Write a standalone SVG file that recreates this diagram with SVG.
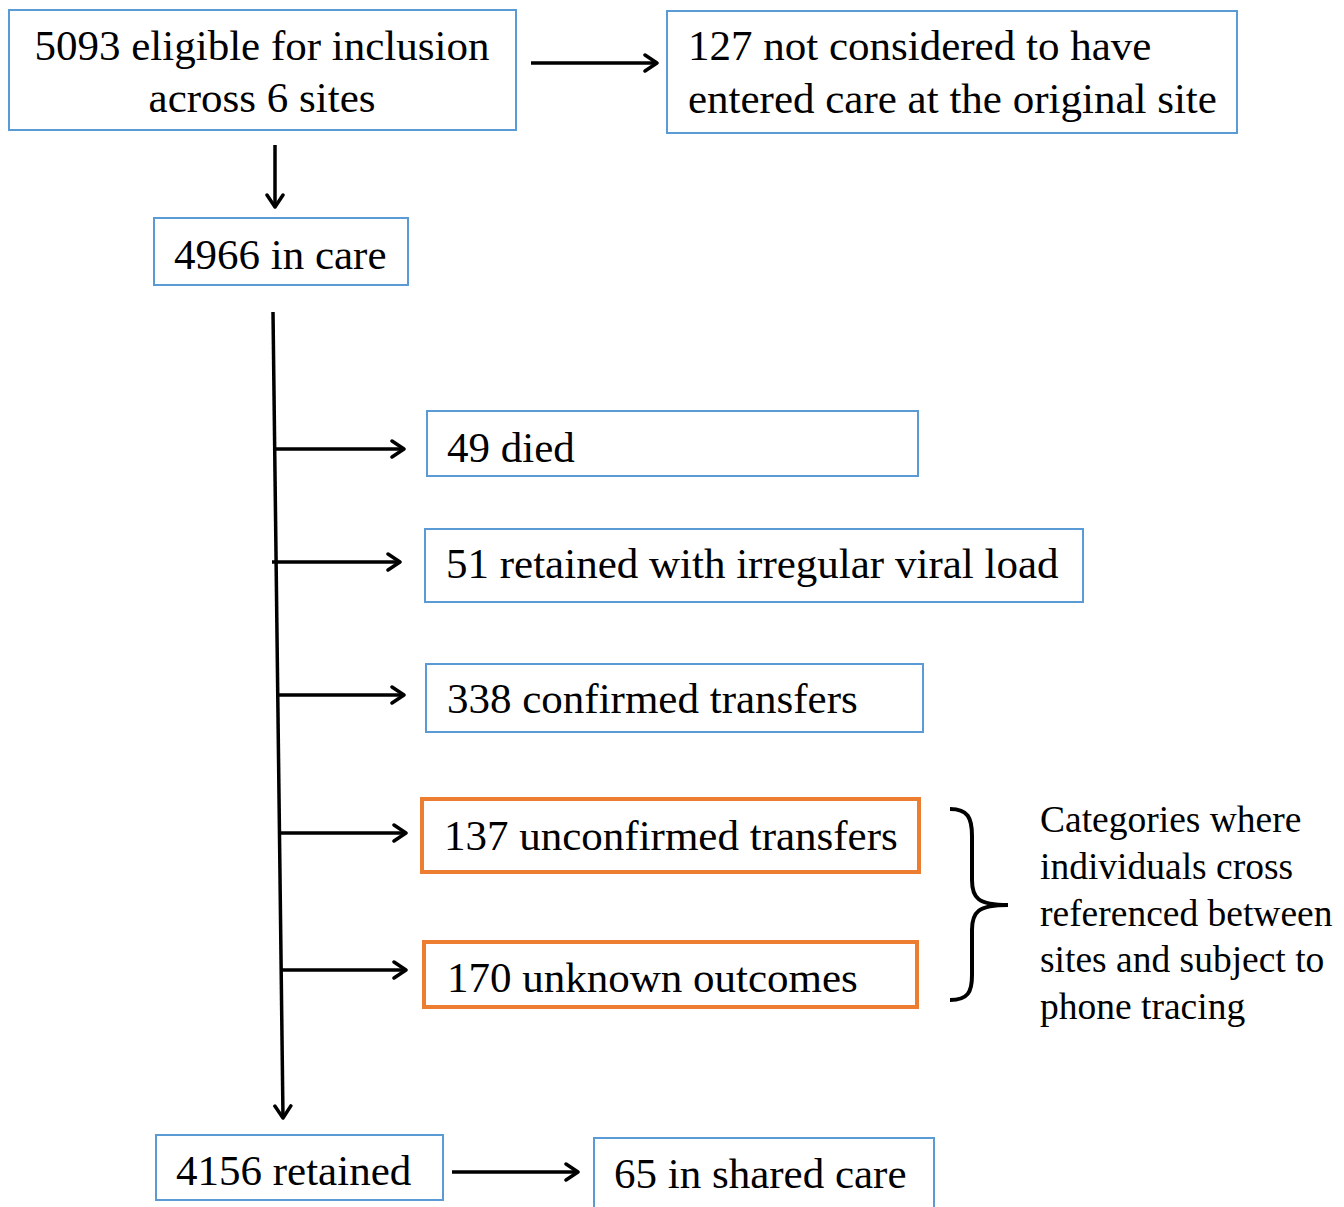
<svg xmlns="http://www.w3.org/2000/svg" width="1344" height="1207" viewBox="0 0 1344 1207">
<style>
.box{fill:#fff;stroke:#5B9BD5;stroke-width:2}
.obox{fill:#fff;stroke:#ED7D31;stroke-width:4}
.t{font-family:"Liberation Serif","Times New Roman",serif;font-size:43px;fill:#000}
.s{font-family:"Liberation Serif","Times New Roman",serif;font-size:37.5px;fill:#000}
.c{fill:none;stroke:#000;stroke-width:3.5}
</style>
<defs>
<marker id="ah" viewBox="0 0 20 20" refX="16" refY="10" markerWidth="20" markerHeight="20" markerUnits="userSpaceOnUse" orient="auto">
<path d="M4,2 L16,10 L4,18" fill="none" stroke="#000" stroke-width="3.5" stroke-linecap="round" stroke-linejoin="round"/>
</marker>
</defs>
<rect width="1344" height="1207" fill="#fff"/>
<g id="n1"><rect class="box" x="9" y="10" width="507" height="120"/>
<text class="t" x="262" y="60" text-anchor="middle">5093 eligible for inclusion</text>
<text class="t" x="262" y="112" text-anchor="middle">across 6 sites</text></g>
<g id="n2"><rect class="box" x="667" y="11" width="570" height="122"/>
<text class="t" x="688" y="60">127 not considered to have</text>
<text class="t" x="688" y="113">entered care at the original site</text></g>
<g id="n3"><rect class="box" x="154" y="218" width="254" height="67"/>
<text class="t" x="174" y="269">4966 in care</text></g>
<g id="n4"><rect class="box" x="427" y="411" width="491" height="65"/>
<text class="t" x="447" y="462">49 died</text></g>
<g id="n5"><rect class="box" x="425" y="529" width="658" height="73"/>
<text class="t" x="446" y="578">51 retained with irregular viral load</text></g>
<g id="n6"><rect class="box" x="426" y="664" width="497" height="68"/>
<text class="t" x="447" y="713">338 confirmed transfers</text></g>
<g id="n7"><rect class="obox" x="422" y="799" width="497" height="73"/>
<text class="t" x="444" y="850">137 unconfirmed transfers</text></g>
<g id="n8"><rect class="obox" x="424" y="942" width="493" height="65"/>
<text class="t" x="447" y="992">170 unknown outcomes</text></g>
<g id="n9"><path d="M950,809 C968,809 972,818 972,836 L972,880 C972,898 978,905 1008,905 C978,905 972,912 972,930 L972,975 C972,992 968,1000 950,1000" fill="none" stroke="#000" stroke-width="4"/>
<text class="s" x="1040" y="832">Categories where</text>
<text class="s" x="1040" y="879">individuals cross</text>
<text class="s" x="1040" y="926">referenced between</text>
<text class="s" x="1040" y="972">sites and subject to</text>
<text class="s" x="1040" y="1019">phone tracing</text></g>
<g id="n10"><rect class="box" x="156" y="1135" width="287" height="65"/>
<text class="t" x="176" y="1185">4156 retained</text></g>
<g id="n11"><rect class="box" x="594" y="1138" width="340" height="75"/>
<text class="t" x="614" y="1188">65 in shared care</text></g>
<g id="connectors">
<line class="c" x1="531" y1="63" x2="657" y2="63" marker-end="url(#ah)"/>
<line class="c" x1="275" y1="145" x2="275" y2="207" marker-end="url(#ah)"/>
<line class="c" x1="273" y1="312" x2="283" y2="1118" marker-end="url(#ah)"/>
<line class="c" x1="275" y1="449" x2="404" y2="449" marker-end="url(#ah)"/>
<line class="c" x1="272" y1="562" x2="400" y2="562" marker-end="url(#ah)"/>
<line class="c" x1="277" y1="695" x2="404" y2="695" marker-end="url(#ah)"/>
<line class="c" x1="280" y1="833" x2="406" y2="833" marker-end="url(#ah)"/>
<line class="c" x1="282" y1="970" x2="406" y2="970" marker-end="url(#ah)"/>
<line class="c" x1="452" y1="1172" x2="578" y2="1172" marker-end="url(#ah)"/>
</g>
</svg>
